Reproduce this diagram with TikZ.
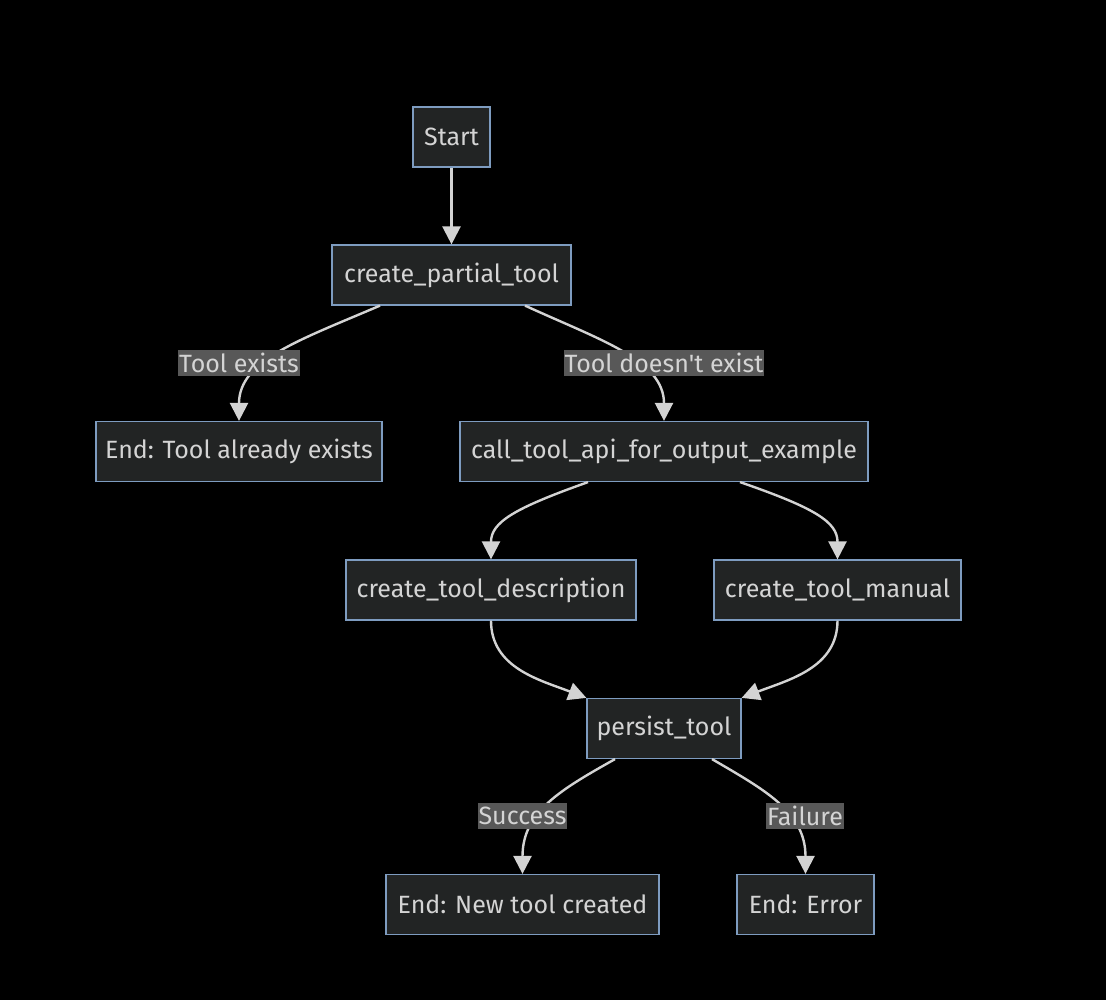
\documentclass[tikz,border=0pt]{standalone}
\usepackage{fontspec}
\setmainfont{Fira Sans}
\usetikzlibrary{arrows.meta}
\definecolor{bgc}{HTML}{000000}
\definecolor{boxfill}{HTML}{222424}
\definecolor{boxline}{HTML}{7E9CC0}
\definecolor{txt}{HTML}{D4D4D4}
\definecolor{edgec}{HTML}{D3D3D3}
\definecolor{lblfill}{HTML}{585858}
\tikzset{
  flowbox/.style={draw=boxline, line width=1.2pt, fill=boxfill, text=txt,
    minimum height=60pt, inner xsep=0pt, inner ysep=0pt,
    font=\fontsize{25}{28}\selectfont},
  edgelbl/.style={fill=lblfill, text=txt, inner xsep=1pt, inner ysep=0pt,
    minimum height=26pt, font=\fontsize{25}{28}\selectfont},
  flow/.style={draw=edgec, line width=2.4pt,
    -{Triangle[length=18pt,width=18pt]}},
}
\begin{document}
\begin{tikzpicture}[x=1pt,y=-1pt]
  \fill[bgc] (0,0) rectangle (1106,1000);
  \useasboundingbox (0,0) rectangle (1106,1000);

  % nodes
  \node[flowbox, minimum width=77pt]  (start) at (451.5,137)   {Start};
  \node[flowbox, minimum width=239pt] (cpt)   at (451.5,275)   {create\_partial\_tool};
  \node[flowbox, minimum width=286pt] (exist) at (239,451.5)   {End: Tool already exists};
  \node[flowbox, minimum width=408pt] (api)   at (664,451.5)   {call\_tool\_api\_for\_output\_example};
  \node[flowbox, minimum width=290pt] (desc)  at (491,590)     {create\_tool\_description};
  \node[flowbox, minimum width=247pt] (man)   at (837.5,590)   {create\_tool\_manual};
  \node[flowbox, minimum width=154pt] (pers)  at (664,728.5)   {persist\_tool};
  \node[flowbox, minimum width=273pt] (new)   at (522.5,904.5) {End: New tool created};
  \node[flowbox, minimum width=137pt] (err)   at (805.5,904.5) {End: Error};

  % connectors
  \draw[flow] (start.south) -- (cpt.north);
  \draw[flow] ([xshift=-71.5pt]cpt.south) .. controls (300,340) and (239,360) .. (exist.north);
  \draw[flow] ([xshift=73.5pt]cpt.south) .. controls (600,340) and (664,360) .. (api.north);
  \draw[flow] ([xshift=-76pt]api.south) .. controls (515,508) and (491,522) .. (desc.north);
  \draw[flow] ([xshift=76pt]api.south) .. controls (815,508) and (837.5,522) .. (man.north);
  \draw[flow] (desc.south) .. controls (491,668) and (540,680) .. (pers.north west);
  \draw[flow] (man.south) .. controls (837.5,668) and (788,680) .. (pers.north east);
  \draw[flow] ([xshift=-49pt]pers.south) .. controls (560,790) and (522.5,812) .. (new.north);
  \draw[flow] ([xshift=48pt]pers.south) .. controls (765,790) and (805.5,812) .. (err.north);

  % connector labels
  \node[edgelbl] (l1) at (239,363)   {Tool exists};
  \node[edgelbl] (l2) at (664,363)   {Tool doesn\textquotesingle t exist};
  \node[edgelbl] (l3) at (522.5,816) {Success};
  \node[edgelbl] (l4) at (805,816)   {Failure};
\end{tikzpicture}
\end{document}
